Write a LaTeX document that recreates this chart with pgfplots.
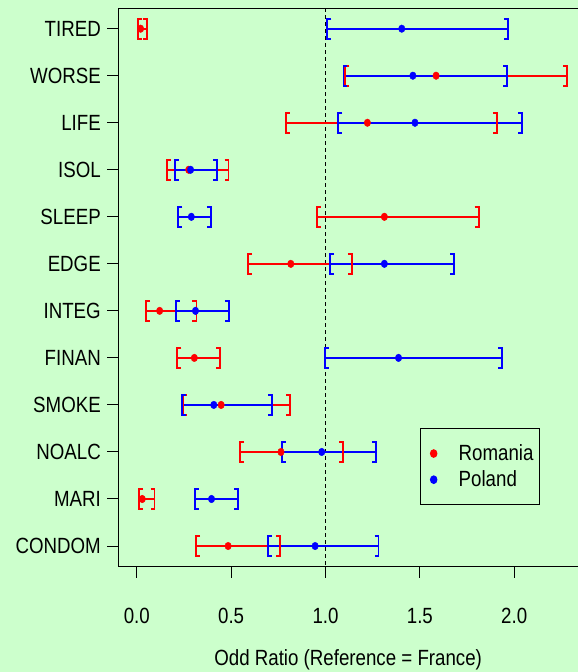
\documentclass[border=0pt]{standalone}
\usepackage{fontspec}
\setmainfont{Liberation Sans}[FakeStretch=0.85]
\usepackage{pgfplots}
\usepackage{pgfplotstable}
\pgfplotsset{compat=1.18}
\usetikzlibrary{backgrounds}

\definecolor{bggreen}{RGB}{204,255,204}

% odds ratio, lower and upper bound; r = row from the top (1 = TIRED ... 12 = CONDOM)
\pgfplotstableread{
r  or    lo    hi
1  0.020 0.008 0.053
2  1.586 1.105 2.279
3  1.222 0.789 1.908
4  0.275 0.158 0.486
5  1.312 0.953 1.812
6  0.816 0.590 1.140
7  0.121 0.050 0.316
8  0.305 0.215 0.443
9  0.447 0.246 0.812
10 0.764 0.547 1.094
11 0.029 0.013 0.094
12 0.484 0.314 0.758
}\romania
\pgfplotstableread{
r  or    lo    hi
1  1.404 1.010 1.967
2  1.463 1.095 1.963
3  1.474 1.068 2.041
4  0.285 0.201 0.425
5  0.289 0.220 0.393
6  1.312 1.025 1.682
7  0.311 0.207 0.488
8  1.387 0.998 1.936
9  0.408 0.238 0.717
10 0.980 0.768 1.267
11 0.396 0.308 0.537
12 0.945 0.695 1.281
}\poland

% bracket ends of the intervals
\pgfdeclareplotmark{lbr}{%
  \pgfpathmoveto{\pgfqpoint{4pt}{10pt}}%
  \pgfpathlineto{\pgfqpoint{0pt}{10pt}}%
  \pgfpathlineto{\pgfqpoint{0pt}{-10pt}}%
  \pgfpathlineto{\pgfqpoint{4pt}{-10pt}}%
  \pgfusepathqstroke}
\pgfdeclareplotmark{rbr}{%
  \pgfpathmoveto{\pgfqpoint{-4pt}{10pt}}%
  \pgfpathlineto{\pgfqpoint{0pt}{10pt}}%
  \pgfpathlineto{\pgfqpoint{0pt}{-10pt}}%
  \pgfpathlineto{\pgfqpoint{-4pt}{-10pt}}%
  \pgfusepathqstroke}

\pgfplotsset{
  ci/.style={#1, only marks, mark=none, forget plot,
    error bars/.cd, x dir=both, x explicit, error mark=none,
    error bar style={line width=1.8pt, solid}},
  br/.style={only marks, forget plot, mark=#1,
    mark options={line width=1.8pt, solid}},
}

\begin{document}
\begin{tikzpicture}
\begin{axis}[
    at={(118.3pt,105.3pt)}, anchor=south west,
    scale only axis, width=459.7pt, height=558.7pt,
    xmin=-0.098, xmax=2.338, ymin=0.56, ymax=12.44, y dir=reverse,
    axis lines*=left,
    axis line style={line width=1pt},
    tick align=outside, major tick length=11pt,
    tick style={black, line width=1pt},
    xtick={0,0.5,1,1.5,2}, xticklabels={0.0,0.5,1.0,1.5,2.0},
    ytick={1,...,12},
    yticklabels={TIRED,WORSE,LIFE,ISOL,SLEEP,EDGE,INTEG,FINAN,SMOKE,NOALC,MARI,CONDOM},
    xticklabel style={yshift=-27pt},
    yticklabel style={xshift=-3pt},
    font=\fontsize{22}{26}\selectfont,
    /pgf/number format/assume math mode=true,
    xlabel={Odd Ratio (Reference = France)},
    xlabel style={at={(axis description cs:0.5,0)}, anchor=center, yshift=-93pt},
    legend image code/.code={%
        \path[draw=none] (0pt,0pt) -- (32pt,0pt);
        \draw[#1] plot coordinates {(9pt,0pt)};},
    legend style={at={(rel axis cs:0.6567,0.2477)}, anchor=north west,
        draw=black, line width=1pt, fill=none, inner xsep=4pt, inner ysep=15pt,
        row sep=6.7pt,
        nodes={inner xsep=2pt, inner ysep=1pt}},
    legend cell align=left,
]
\addplot[black, line width=0.8pt, dash pattern=on 4pt off 3pt, forget plot]
    coordinates {(1,0.56) (1,12.44)};

\addplot[ci=red] table[x=or, y=r,
    x error plus expr=\thisrow{hi}-\thisrow{or},
    x error minus expr=\thisrow{or}-\thisrow{lo}] {\romania};
\addplot[br=lbr, red] table[x=lo, y=r] {\romania};
\addplot[br=rbr, red] table[x=hi, y=r] {\romania};

\addplot[ci=blue] table[x=or, y=r,
    x error plus expr=\thisrow{hi}-\thisrow{or},
    x error minus expr=\thisrow{or}-\thisrow{lo}] {\poland};
\addplot[br=lbr, blue] table[x=lo, y=r] {\poland};
\addplot[br=rbr, blue] table[x=hi, y=r] {\poland};

\addplot[only marks, mark=*, red, mark size=3.8pt, mark options={xscale=0.85}]
    table[x=or, y=r] {\romania};
\addlegendentry{Romania}
\addplot[only marks, mark=*, blue, mark size=3.8pt, mark options={xscale=0.85}]
    table[x=or, y=r] {\poland};
\addlegendentry{Poland}

\draw[line width=1pt] (rel axis cs:0,1) -- (rel axis cs:1,1);
\end{axis}
\begin{pgfonlayer}{background}
\fill[bggreen] (0,0) rectangle (578pt,672pt);
\end{pgfonlayer}
\pgfresetboundingbox
\useasboundingbox (0,0) rectangle (578pt,672pt);
\end{tikzpicture}
\end{document}
